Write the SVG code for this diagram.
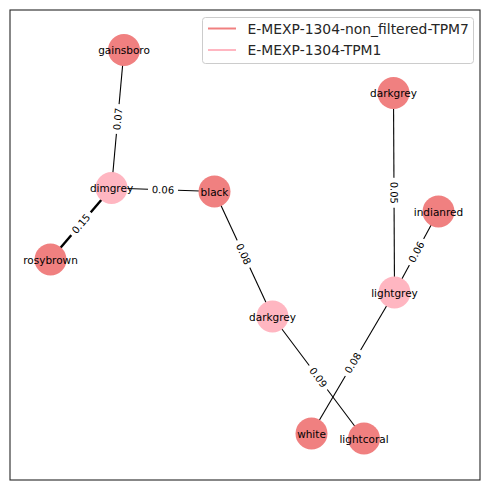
<svg xmlns="http://www.w3.org/2000/svg" width="490" height="490" viewBox="0 0 490 490">
<style>
.edge{stroke:#000;stroke-width:1.1;fill:none}
.node circle{stroke:none}
.t7{fill:#f08080}
.t1{fill:#ffb6c1}
.nl{font-family:"DejaVu Sans",sans-serif;font-size:10.5px;fill:#000;text-anchor:middle;dominant-baseline:central}
.el text{font-family:"DejaVu Sans",sans-serif;font-size:10px;fill:#000;text-anchor:middle;dominant-baseline:central}
.el rect{fill:#fff}
.leg{font-family:"DejaVu Sans",sans-serif;font-size:13.9px;fill:#262626}
</style>
<rect x="0" y="0" width="490" height="490" fill="#fff"/>
<rect x="10" y="10" width="470" height="470" fill="none" stroke="#262626" stroke-width="1.1"/>
<g id="connectors">
<line class="edge" x1="124" y1="50" x2="111.5" y2="188"/>
<line class="edge" x1="111.5" y1="188" x2="214.5" y2="191.5"/>
<line class="edge" x1="111.5" y1="188" x2="50.5" y2="259.5" style="stroke-width:2.4"/>
<line class="edge" x1="214.5" y1="191.5" x2="272.5" y2="316.5"/>
<line class="edge" x1="272.5" y1="316.5" x2="364" y2="438.5"/>
<line class="edge" x1="393.5" y1="93" x2="394.5" y2="292.5"/>
<line class="edge" x1="438.5" y1="211.5" x2="394.5" y2="292.5"/>
<line class="edge" x1="394.5" y1="292.5" x2="311.5" y2="433.5"/>
</g>
<g id="nodes">
<g class="node" id="n-gainsboro"><circle class="t7" cx="124" cy="50" r="16"/><text class="nl" x="124" y="50">gainsboro</text></g>
<g class="node" id="n-dimgrey"><circle class="t1" cx="111.5" cy="188" r="16"/><text class="nl" x="111.5" y="188">dimgrey</text></g>
<g class="node" id="n-black"><circle class="t7" cx="214.5" cy="191.5" r="16"/><text class="nl" x="214.5" y="191.5">black</text></g>
<g class="node" id="n-rosybrown"><circle class="t7" cx="50.5" cy="259.5" r="16"/><text class="nl" x="50.5" y="259.5">rosybrown</text></g>
<g class="node" id="n-darkgrey1"><circle class="t7" cx="393.5" cy="93" r="16"/><text class="nl" x="393.5" y="93">darkgrey</text></g>
<g class="node" id="n-indianred"><circle class="t7" cx="438.5" cy="211.5" r="16"/><text class="nl" x="438.5" y="211.5">indianred</text></g>
<g class="node" id="n-lightgrey"><circle class="t1" cx="394.5" cy="292.5" r="16"/><text class="nl" x="394.5" y="292.5">lightgrey</text></g>
<g class="node" id="n-darkgrey2"><circle class="t1" cx="272.5" cy="316.5" r="16"/><text class="nl" x="272.5" y="316.5">darkgrey</text></g>
<g class="node" id="n-white"><circle class="t7" cx="311.5" cy="433.5" r="16"/><text class="nl" x="311.5" y="433.5">white</text></g>
<g class="node" id="n-lightcoral"><circle class="t7" cx="364" cy="438.5" r="16"/><text class="nl" x="364" y="438.5">lightcoral</text></g>
</g>
<g id="edge-labels" class="el">
<g transform="translate(117.8,119) rotate(-84.8)"><rect x="-15" y="-7" width="30" height="14" rx="3"/><text x="0" y="0">0.07</text></g>
<g transform="translate(163,189.8) rotate(1.9)"><rect x="-15" y="-7" width="30" height="14" rx="3"/><text x="0" y="0">0.06</text></g>
<g transform="translate(81,223.8) rotate(-49.5)"><rect x="-15" y="-7" width="30" height="14" rx="3"/><text x="0" y="0">0.15</text></g>
<g transform="translate(243.5,254) rotate(65.1)"><rect x="-15" y="-7" width="30" height="14" rx="3"/><text x="0" y="0">0.08</text></g>
<g transform="translate(318.3,377.5) rotate(53.1)"><rect x="-15" y="-7" width="30" height="14" rx="3"/><text x="0" y="0">0.09</text></g>
<g transform="translate(394,192.8) rotate(89.7)"><rect x="-15" y="-7" width="30" height="14" rx="3"/><text x="0" y="0">0.05</text></g>
<g transform="translate(416.5,252) rotate(-61.5)"><rect x="-15" y="-7" width="30" height="14" rx="3"/><text x="0" y="0">0.06</text></g>
<g transform="translate(353,363) rotate(-59.5)"><rect x="-15" y="-7" width="30" height="14" rx="3"/><text x="0" y="0">0.08</text></g>
</g>
<g id="legend">
<rect x="202.5" y="17.5" width="271" height="46" rx="3" fill="#fff" fill-opacity="0.8" stroke="#ccc" stroke-width="1"/>
<line x1="208" y1="28.5" x2="236" y2="28.5" stroke="#f08080" stroke-width="2"/>
<line x1="208" y1="50" x2="236" y2="50" stroke="#ffb6c1" stroke-width="2"/>
<text class="leg" x="247.5" y="33.5">E-MEXP-1304-non_filtered-TPM7</text>
<text class="leg" x="247.5" y="55">E-MEXP-1304-TPM1</text>
</g>
</svg>
